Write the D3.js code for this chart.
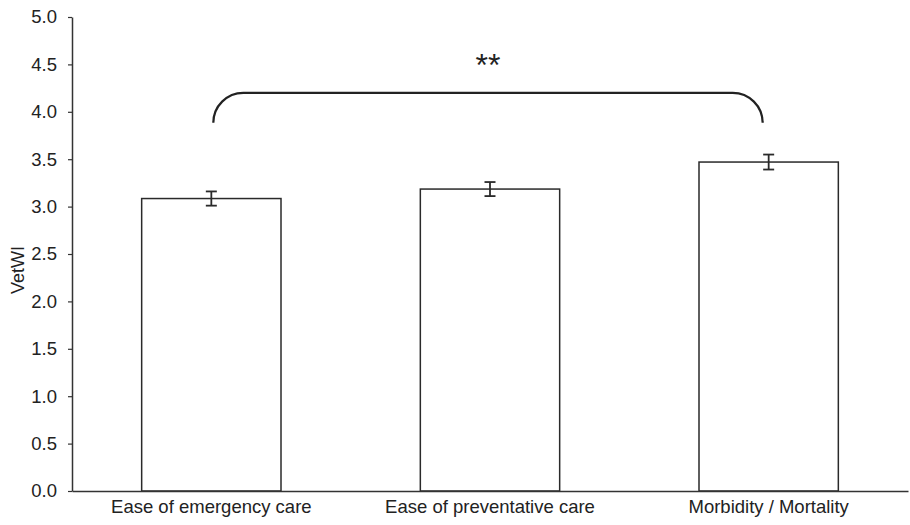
<!DOCTYPE html>
<html>
<head>
<meta charset="utf-8">
<script src="https://cdn.jsdelivr.net/npm/d3@7"></script>
<style>
  body { margin: 0; background: #fff; }
  svg text { font-family: "Liberation Sans", Arial, sans-serif; fill: #222; }
</style>
</head>
<body>
<div id="chart"></div>
<script>
var categories = ["Ease of emergency care", "Ease of preventative care", "Morbidity / Mortality"];
var means = [3.085, 3.185, 3.47];
var errors = [0.075, 0.074, 0.079];
var yTicks = [0, 0.5, 1, 1.5, 2, 2.5, 3, 3.5, 4, 4.5, 5];
// significance bracket between first and last category
var bracketFrom = 0, bracketTo = 2;
var bracketLow = 3.9, bracketHigh = 4.2;
var sigLabel = "**";

var width = 910, height = 525;
var margin = { top: 17, right: 2, bottom: 34, left: 72 };

var svg = d3.select("#chart").append("svg")
  .attr("width", width)
  .attr("height", height);

var x = d3.scaleBand()
  .domain(categories)
  .range([margin.left, width - margin.right])
  .paddingInner(0.5)
  .paddingOuter(0.25);

var y = d3.scaleLinear()
  .domain([0, 5])
  .range([height - margin.bottom, margin.top]);

// bars
svg.selectAll(".bar")
  .data(categories)
  .enter().append("rect")
  .attr("class", "bar")
  .attr("x", function(d) { return x(d); })
  .attr("y", function(d, i) { return y(means[i]); })
  .attr("width", x.bandwidth())
  .attr("height", function(d, i) { return y(0) - y(means[i]); })
  .attr("fill", "#fff")
  .attr("stroke", "#2a2a2a")
  .attr("stroke-width", 1.5);

// error bars
var eb = svg.selectAll(".err")
  .data(categories)
  .enter().append("g")
  .attr("class", "err")
  .attr("stroke", "#2a2a2a")
  .attr("stroke-width", 1.8);
eb.append("line")
  .attr("x1", function(d) { return x(d) + x.bandwidth() / 2; })
  .attr("x2", function(d) { return x(d) + x.bandwidth() / 2; })
  .attr("y1", function(d, i) { return y(means[i] + errors[i]); })
  .attr("y2", function(d, i) { return y(means[i] - errors[i]); });
eb.append("line")
  .attr("x1", function(d) { return x(d) + x.bandwidth() / 2 - 5.5; })
  .attr("x2", function(d) { return x(d) + x.bandwidth() / 2 + 5.5; })
  .attr("y1", function(d, i) { return y(means[i] + errors[i]); })
  .attr("y2", function(d, i) { return y(means[i] + errors[i]); });
eb.append("line")
  .attr("x1", function(d) { return x(d) + x.bandwidth() / 2 - 5.5; })
  .attr("x2", function(d) { return x(d) + x.bandwidth() / 2 + 5.5; })
  .attr("y1", function(d, i) { return y(means[i] - errors[i]); })
  .attr("y2", function(d, i) { return y(means[i] - errors[i]); });

// y axis
var yAxis = svg.append("g")
  .attr("transform", "translate(" + margin.left + ",0)")
  .call(d3.axisLeft(y).tickValues(yTicks).tickFormat(d3.format(".1f")).tickSize(4).tickSizeOuter(0));
yAxis.select(".domain").attr("stroke", "#333").attr("stroke-width", 1.5);
yAxis.selectAll(".tick line").attr("stroke", "#333").attr("stroke-width", 1.2);
yAxis.selectAll(".tick text")
  .attr("x", -15)
  .style("font-size", "18.5px")
  .style("font-family", "'Liberation Sans', Arial, sans-serif")
  .attr("fill", "#222");

// x axis
var xAxis = svg.append("g")
  .attr("transform", "translate(0," + y(0) + ")")
  .call(d3.axisBottom(x).tickSize(0).tickSizeOuter(0));
xAxis.select(".domain").attr("stroke", "#333").attr("stroke-width", 1.5);
xAxis.selectAll(".tick text")
  .attr("dy", "1.05em")
  .style("font-size", "18.5px")
  .style("font-family", "'Liberation Sans', Arial, sans-serif")
  .attr("fill", "#222");

// y label
svg.append("text")
  .attr("transform", "translate(24," + 270 + ") rotate(-90)")
  .attr("text-anchor", "middle")
  .style("font-size", "18px")
  .text("VetWI");

// significance bracket
var bx1 = x(categories[bracketFrom]) + x.bandwidth() / 2 + 2;
var bx2 = x(categories[bracketTo]) + x.bandwidth() / 2 - 6;
var by1 = y(bracketLow), by2 = y(bracketHigh);
var r = 30;
var p = d3.path();
p.moveTo(bx1, by1);
p.arcTo(bx1, by2, bx1 + r, by2, r);
p.lineTo(bx2 - r, by2);
p.arcTo(bx2, by2, bx2, by1, r);
p.lineTo(bx2, by1);
svg.append("path")
  .attr("d", p.toString())
  .attr("fill", "none")
  .attr("stroke", "#222")
  .attr("stroke-width", 2.2);

svg.append("text")
  .attr("x", (bx1 + bx2) / 2)
  .attr("y", 76)
  .attr("text-anchor", "middle")
  .style("font-size", "32px")
  .text(sigLabel);
</script>
</body>
</html>
